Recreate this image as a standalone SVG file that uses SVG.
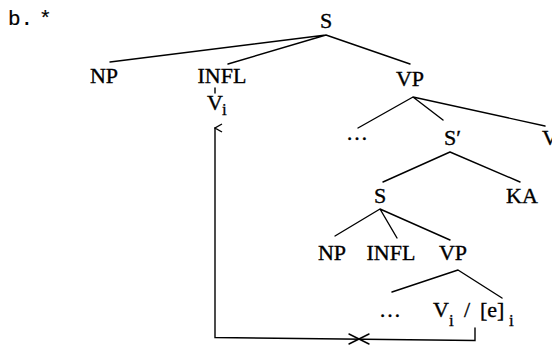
<svg xmlns="http://www.w3.org/2000/svg" width="552" height="346" viewBox="0 0 552 346">
  <style>
    .lbl { font-family: "Liberation Serif", "Times New Roman", serif; font-size: 22px; fill: #000; stroke: #000; stroke-width: 0.35; text-anchor: middle; }
    .st { text-anchor: start; }
    .sub { font-family: "Liberation Serif", "Times New Roman", serif; font-size: 17px; fill: #000; stroke: #000; stroke-width: 0.3; }
    .tag { font-family: "Liberation Mono", "Courier New", monospace; font-size: 21px; fill: #000; stroke: #000; stroke-width: 0.2; }
    .edge { stroke: #000; stroke-width: 1.4; fill: none; stroke-linecap: round; }
  </style>
  <defs>
    <marker id="openArrow" viewBox="0 0 10 10" refX="5" refY="1" markerWidth="10" markerHeight="10" markerUnits="userSpaceOnUse" orient="auto-start-reverse">
      <path d="M1,8 L5,1 L9,8" stroke="#000" stroke-width="1.4" fill="none"/>
    </marker>
  </defs>
  <rect width="552" height="346" fill="#fff"/>

  <text class="tag" x="8" y="25">b.</text>
  <text class="tag" x="39" y="25">*</text>

  <!-- tree branches -->
  <g id="connectors">
    <path class="edge" d="M326,35 L110,62 M326,35 L228,64 M326,35 L410,64"/>
    <path class="edge" d="M413,97 L358,128 M413,97 L443,120 M413,97 L545,126"/>
    <path class="edge" d="M450,152 L383,182 M450,152 L520,182"/>
    <path class="edge" d="M380,209 L335,236 M380,209 L397,238 M380,209 L450,240"/>
    <path class="edge" d="M458,270 L392,292 M458,270 L502,298"/>
    <path class="edge" d="M215,88 L215,93"/>
    <!-- head movement path, blocked -->
    <path class="edge" d="M475,328 L475,340.5 L215,337.5 L215,128" marker-end="url(#openArrow)"/>
    <path class="edge" d="M349,334 L369,344 M349,344 L369,334"/>
  </g>

  <g id="S_root"><text class="lbl" x="326" y="28">S</text></g>
  <g id="NP_top"><text class="lbl" x="104" y="83">NP</text></g>
  <g id="INFL_top"><text class="lbl" x="222" y="83">INFL</text></g>
  <g id="V_moved"><text class="lbl st" x="207" y="110">V</text><text class="sub" x="222" y="115">i</text></g>
  <g id="VP_top"><text class="lbl" x="410" y="86">VP</text></g>
  <g id="dots_top"><text class="lbl" x="357" y="140">…</text></g>
  <g id="S_bar"><text class="lbl st" x="444" y="145">S′</text></g>
  <g id="V_right"><text class="lbl st" x="542" y="145">V</text></g>
  <g id="S_embedded"><text class="lbl" x="380" y="203">S</text></g>
  <g id="KA"><text class="lbl" x="522" y="203">KA</text></g>
  <g id="NP_low"><text class="lbl" x="332" y="260">NP</text></g>
  <g id="INFL_low"><text class="lbl" x="391" y="260">INFL</text></g>
  <g id="VP_low"><text class="lbl" x="453" y="260">VP</text></g>
  <g id="dots_low"><text class="lbl" x="390" y="317">…</text></g>
  <g id="trace">
    <text class="lbl st" x="433" y="317">V</text><text class="sub" x="449" y="326">i</text>
    <text class="lbl st" x="464" y="317">/</text>
    <text class="lbl st" x="480" y="317">[e]</text><text class="sub" x="509" y="326">i</text>
  </g>
</svg>
